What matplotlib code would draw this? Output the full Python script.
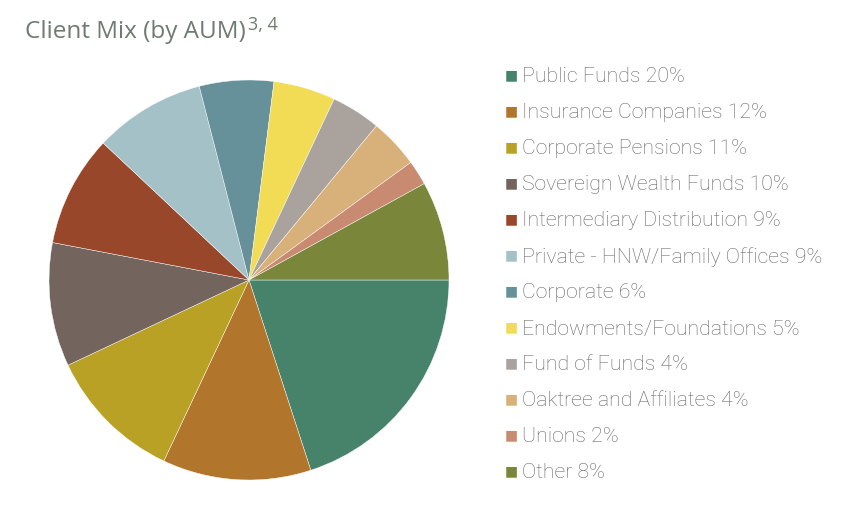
import matplotlib
matplotlib.use("Agg")
import matplotlib.pyplot as plt

labels = ["Public Funds", "Insurance Companies", "Corporate Pensions",
          "Sovereign Wealth Funds", "Intermediary Distribution",
          "Private - HNW/Family Offices", "Corporate", "Endowments/Foundations",
          "Fund of Funds", "Oaktree and Affiliates", "Unions", "Other"]
shares = [20, 12, 11, 10, 9, 9, 6, 5, 4, 4, 2, 8]
colors = ["#46836a", "#b1752c", "#b8a125", "#73655e", "#98472b", "#a5c1c8",
          "#66909a", "#f2dc55", "#aaa39d", "#d8b07a", "#c98a72", "#7a8639"]

W, H = 846, 506
fig = plt.figure(figsize=(W / 100, H / 100), dpi=100)
fig.patch.set_facecolor("white")

# pie, centre ~ (249, 281), radius 200 px
ax = fig.add_axes([49 / W, (H - 481) / H, 400 / W, 400 / H])
ax.pie(shares, colors=colors, startangle=0, counterclock=False, radius=1,
       wedgeprops=dict(linewidth=0.3, edgecolor="white"))
ax.set_xlim(-1, 1)
ax.set_ylim(-1, 1)
ax.set_aspect("equal")
ax.axis("off")

# title with superscript
title_color = "#6d7b70"
t = fig.text(25 / W, 1 - 38 / H, "Client Mix (by AUM)", fontsize=17.5,
             family="Open Sans", color=title_color, va="baseline")
fig.canvas.draw()
bb = t.get_window_extent()
fig.text(bb.x1 / W + 2 / W, 1 - 30 / H, "3, 4", fontsize=13,
         family="Open Sans", color=title_color, va="baseline")

# legend
for i, (lab, val, c) in enumerate(zip(labels, shares, colors)):
    y = 1 - (75.5 + 36 * i) / H
    fig.text(511 / W, y, "\u25A0", fontsize=10, color=c, va="center", ha="center",
             family="DejaVu Sans")
    fig.text(522 / W, y - 1.5 / H, f"{lab} {val}%", fontsize=15.3, family="Roboto",
             fontweight="light", color="#666666", va="center")

fig.savefig("out.png", dpi=100)
